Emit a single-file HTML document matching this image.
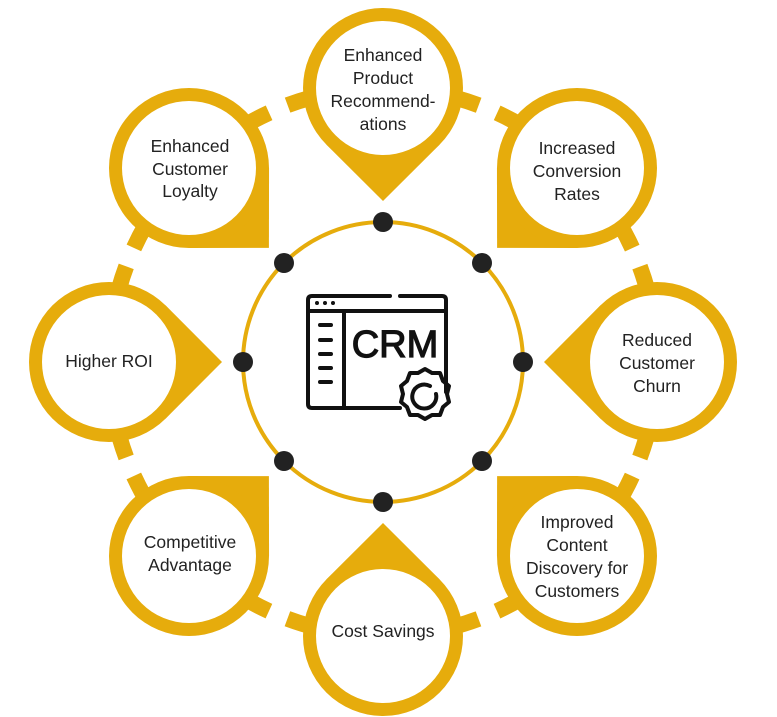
<!DOCTYPE html>
<html><head><meta charset="utf-8"><style>
html,body{margin:0;padding:0;background:#fff;}
svg{display:block;}
text{font-family:"Liberation Sans",sans-serif;fill:#222;font-size:17.5px;text-anchor:middle;}
</style></head><body>
<svg width="777" height="717" viewBox="0 0 777 717" xmlns="http://www.w3.org/2000/svg">
<defs>
<g id="node">
  <polygon points="0,0 56.6,-56.6 113,0 56.6,56.6" fill="#E6AC0C"/>
  <circle r="80" fill="#E6AC0C"/>
  <circle r="67" fill="#fff"/>
</g>
</defs>
<circle cx="383" cy="362" r="274" fill="none" stroke="#E6AC0C" stroke-width="16" stroke-dasharray="97.6 20 97.6 0"/>
<circle cx="383" cy="362" r="140" fill="none" stroke="#E6AC0C" stroke-width="4"/>
<use href="#node" transform="translate(657,362) rotate(180)"/>
<use href="#node" transform="translate(577,556) rotate(225)"/>
<use href="#node" transform="translate(383,636) rotate(270)"/>
<use href="#node" transform="translate(189,556) rotate(315)"/>
<use href="#node" transform="translate(109,362) rotate(0)"/>
<use href="#node" transform="translate(189,168) rotate(45)"/>
<use href="#node" transform="translate(383,88) rotate(90)"/>
<use href="#node" transform="translate(577,168) rotate(135)"/>
<g fill="#222">
<circle cx="383" cy="222" r="10"/><circle cx="482" cy="263" r="10"/>
<circle cx="523" cy="362" r="10"/><circle cx="482" cy="461" r="10"/>
<circle cx="383" cy="502" r="10"/><circle cx="284" cy="461" r="10"/>
<circle cx="243" cy="362" r="10"/><circle cx="284" cy="263" r="10"/>
</g>
<text x="383" y="61">Enhanced</text><text x="383" y="84">Product</text><text x="383" y="107">Recommend-</text><text x="383" y="130">ations</text>
<text x="190" y="152">Enhanced</text><text x="190" y="175">Customer</text><text x="190" y="197">Loyalty</text>
<text x="577" y="154">Increased</text><text x="577" y="177">Conversion</text><text x="577" y="200">Rates</text>
<text x="109" y="367">Higher ROI</text>
<text x="657" y="346">Reduced</text><text x="657" y="369">Customer</text><text x="657" y="392">Churn</text>
<text x="190" y="548">Competitive</text><text x="190" y="571">Advantage</text>
<text x="577" y="528">Improved</text><text x="577" y="551">Content</text><text x="577" y="574">Discovery for</text><text x="577" y="597">Customers</text>
<text x="383" y="637">Cost Savings</text>
<g fill="none" stroke="#111" stroke-width="4" stroke-linecap="round" stroke-linejoin="round">
<path d="M400 296 H442 Q446 296 446 300 V392"/>
<path d="M390 296 H312 Q308 296 308 300 V404 Q308 408 312 408 H400"/>
<line x1="308" y1="311" x2="446" y2="311"/>
<line x1="344" y1="311" x2="344" y2="408"/>
<line x1="320" y1="325" x2="331" y2="325"/><line x1="320" y1="340" x2="331" y2="340"/>
<line x1="320" y1="354" x2="331" y2="354"/><line x1="320" y1="368" x2="331" y2="368"/>
<line x1="320" y1="382" x2="331" y2="382"/>
<path d="M418 373 l7 -4 l7 4 l8 0 l3 8 l6 5 l-2 8 l2 8 l-6 5 l-3 8 l-8 0 l-7 4 l-7 -4 l-8 0 l-3 -8 l-6 -5 l2 -8 l-2 -8 l6 -5 l3 -8 z"/>
<path d="M436 394 A12 12 0 1 1 430 386"/>
</g>
<g fill="#111"><circle cx="317" cy="303" r="2"/><circle cx="325" cy="303" r="2"/><circle cx="333" cy="303" r="2"/></g>
<text x="395" y="357" style="font-size:38px;fill:#111;stroke:#111;stroke-width:1.2">CRM</text>
</svg>
</body></html>
